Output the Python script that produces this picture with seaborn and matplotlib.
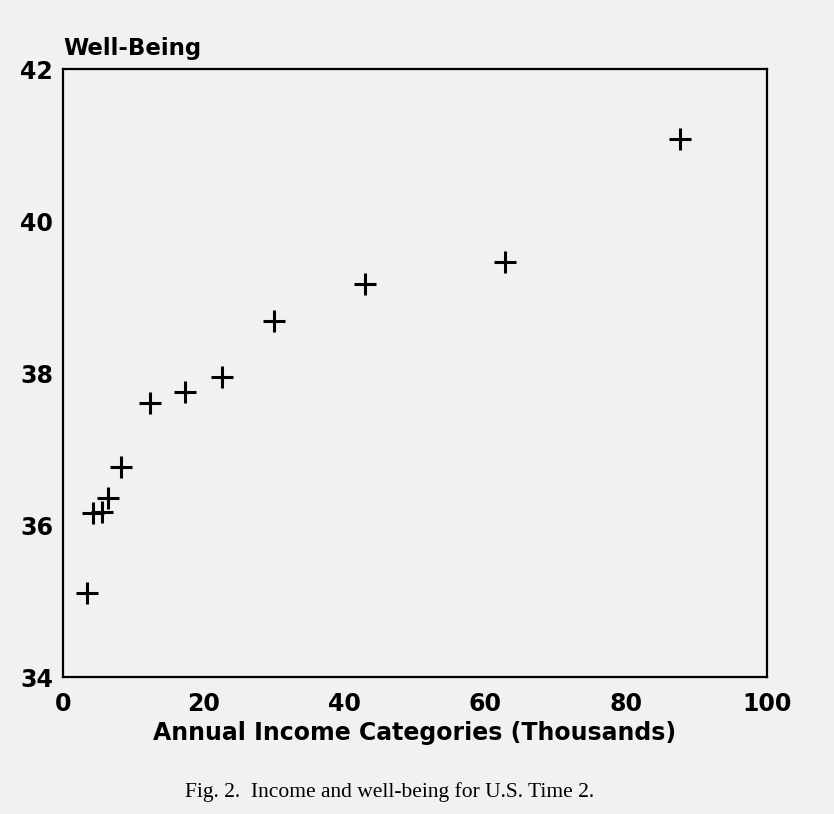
import matplotlib
matplotlib.use("Agg")
import matplotlib.pyplot as plt
import seaborn as sns
import pandas as pd

income = [3.4, 4.3, 5.5, 6.4, 8.3, 12.4, 17.4, 22.6, 30.0, 42.9, 62.8, 87.6]
wellbeing = [35.11, 36.16, 36.17, 36.36, 36.76, 37.60, 37.75, 37.95, 38.68, 39.17, 39.46, 41.08]
x_ticks = [0, 20, 40, 60, 80, 100]
y_ticks = [34, 36, 38, 40, 42]

df = pd.DataFrame({"income": income, "wellbeing": wellbeing})

sns.set_style("white")
plt.rcParams['font.family'] = ['DejaVu Sans']
plt.rcParams['text.color'] = 'black'

paper = "#f1f1ef"
fig = plt.figure(figsize=(8.34, 8.14), dpi=100, facecolor=paper)
ax = fig.add_axes([0.0755, 0.1683, 0.8442, 0.7469])
ax.set_facecolor(paper)

sns.scatterplot(data=df, x="income", y="wellbeing", marker="+", s=260,
                linewidth=2.2, color="black", ax=ax)

ax.set_xlim(0, 100)
ax.set_ylim(34, 42)
ax.set_xticks(x_ticks)
ax.set_yticks(y_ticks)
ax.set_xticklabels([str(t) for t in x_ticks], fontsize=17, fontweight="bold")
ax.set_yticklabels([str(t) for t in y_ticks], fontsize=17, fontweight="bold")
ax.tick_params(axis="both", length=0, colors="black")
ax.tick_params(axis="x", pad=11)
ax.tick_params(axis="y", pad=7)
for s in ax.spines.values():
    s.set_linewidth(1.6)
    s.set_color("black")

ax.set_xlabel("")
ax.set_ylabel("")
fig.text(0.076, 1 - 49 / 814, "Well-Being", fontsize=16.5, fontweight="bold",
         ha="left", va="center", color="black")
fig.text(415 / 834, 1 - 733 / 814, "Annual Income Categories (Thousands)", fontsize=17,
         fontweight="bold", ha="center", va="center", color="black")
fig.text(185 / 834, 1 - 792 / 814, "Fig. 2.  Income and well-being for U.S. Time 2.",
         fontsize=15.5, family=["Liberation Serif"], ha="left", va="center", color="black")

fig.savefig("out.png", dpi=100, facecolor=paper)
